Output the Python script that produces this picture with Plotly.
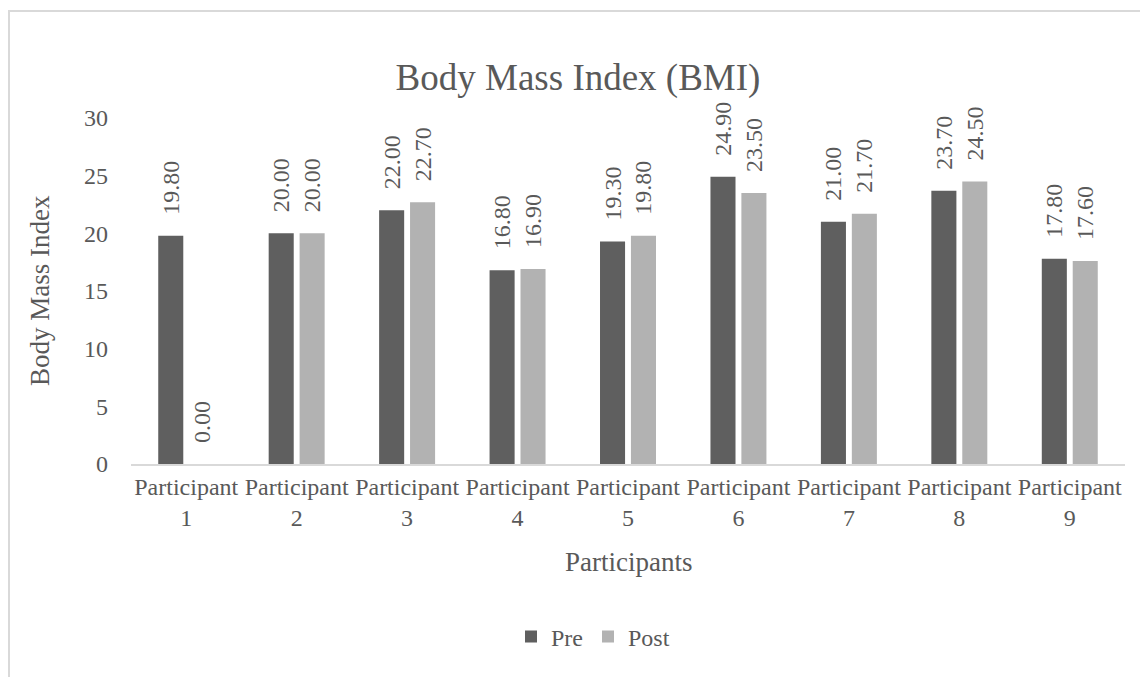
import plotly.graph_objects as go

categories = [f"Participant<br>{i}" for i in range(1, 10)]
pre_values = [19.8, 20.0, 22.0, 16.8, 19.3, 24.9, 21.0, 23.7, 17.8]
post_values = [0.0, 20.0, 22.7, 16.9, 19.8, 23.5, 21.7, 24.5, 17.6]
y_ticks = [0, 5, 10, 15, 20, 25, 30]

FONT = "Liberation Serif, Times New Roman, serif"
TXT = "#595959"

# page body has an 8px margin; figure sized to fill the rest of the window
W, H = 1140, 669
L, R, T, B = 123, 23, 110, 213
pw, ph = W - L - R, H - T - B

def px_x(px):
    return (px - L) / pw

def px_y(py):
    return (H - B - py) / ph

fig = go.Figure()
for name, vals, col in [("Pre", pre_values, "#5f5f5f"), ("Post", post_values, "#b2b2b2")]:
    fig.add_trace(go.Bar(
        name=name, x=categories, y=vals,
        marker=dict(color=col, line=dict(width=0)),
        texttemplate="\u00a0\u00a0\u00a0%{y:.2f}", textposition="outside", textangle=-90,
        constraintext="none",
        textfont=dict(family=FONT, size=24, color=TXT), cliponaxis=False,
    ))

fig.update_layout(
    template="none",
    width=W, height=H,
    margin=dict(l=L, r=R, t=T, b=B, pad=0, autoexpand=False),
    paper_bgcolor="white", plot_bgcolor="white",
    barmode="group", bargap=0.44, bargroupgap=0.19,
    font=dict(family=FONT, color=TXT),
    title=dict(text="Body Mass Index (BMI)", x=0.5, xref="container",
               y=1 - 69 / H, yref="container", yanchor="middle", xanchor="center",
               font=dict(family=FONT, size=37, color=TXT)),
    showlegend=True,
    legend=dict(orientation="h", x=px_x(585), xref="paper", xanchor="center",
                y=px_y(629), yanchor="middle",
                font=dict(family=FONT, size=24, color=TXT),
                traceorder="normal", bgcolor="rgba(0,0,0,0)"),
)
fig.update_xaxes(
    showgrid=False, showline=True, linecolor="#d9d9d9", linewidth=2,
    ticks="", tickangle=0, automargin=False,
    tickfont=dict(family=FONT, size=24, color=TXT), zeroline=False,
)
fig.update_yaxes(
    range=[0, 30], tickvals=y_ticks, showgrid=False, showline=False, zeroline=False,
    ticks="", automargin=False,
    tickfont=dict(family=FONT, size=24, color=TXT), ticklabelstandoff=22,
)
fig.add_annotation(text="Participants", xref="paper", yref="paper",
                   x=0.5, y=px_y(554), showarrow=False, xanchor="center", yanchor="middle",
                   font=dict(family=FONT, size=27, color=TXT))
fig.add_annotation(text="Body Mass Index", xref="paper", yref="paper",
                   x=px_x(32), y=0.5, textangle=-90, showarrow=False,
                   xanchor="center", yanchor="middle",
                   font=dict(family=FONT, size=27, color=TXT))
# chart frame (left and top edges)
fig.add_shape(type="line", xref="paper", yref="paper",
              x0=px_x(1), x1=px_x(1), y0=px_y(2), y1=px_y(700),
              line=dict(color="#d9d9d9", width=2))
fig.add_shape(type="line", xref="paper", yref="paper",
              x0=px_x(1), x1=px_x(1160), y0=px_y(3), y1=px_y(3),
              line=dict(color="#d9d9d9", width=2))

fig.write_html("out.html")
